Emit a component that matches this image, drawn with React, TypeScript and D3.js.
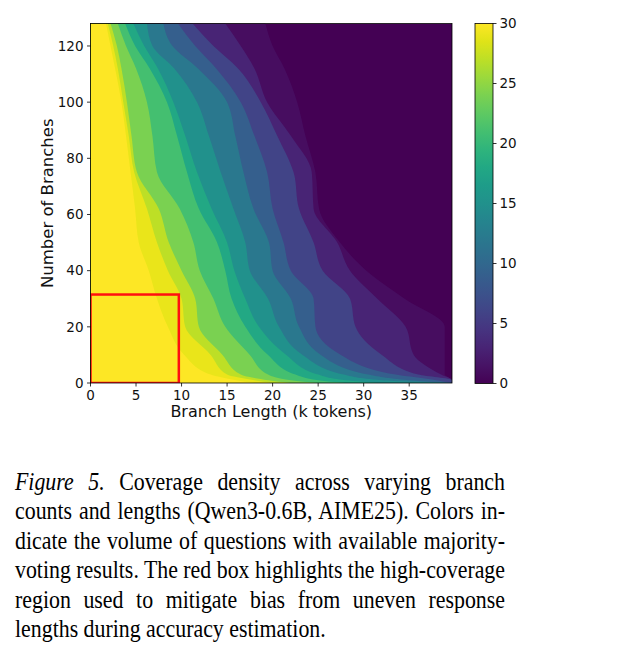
import { useEffect, useRef } from 'react';
import * as d3 from 'd3';

// branch counts at which the coverage edges are sampled
const branchRows = [0, 1, 3, 10, 20, 30, 40, 50, 62, 75, 88, 100, 112, 120, 128];

// coverage levels (questions out of 30) drawn as nested bands
const coverageLevels = [1, 3, 6, 9, 12, 15, 18, 21, 24, 27, 29, 30];

// for each branch row: branch length (k tokens) where coverage drops below each level
const lengthEdges = [
  [39.7, 39.7, 39.7, 39.7, 39.7, 39.7, 32.0, 28.0, 25.0, 22.0, 20.0, 18.0],
  [39.7, 39.7, 39.7, 38.0, 35.0, 32.0, 28.0, 25.0, 22.0, 19.5, 18.0, 16.0],
  [38.9, 38.5, 36.0, 33.5, 30.5, 27.8, 25.0, 22.5, 19.5, 16.5, 15.0, 13.2],
  [38.9, 35.5, 32.0, 27.5, 25.3, 23.3, 21.5, 19.5, 17.5, 14.5, 13.2, 10.3],
  [38.9, 34.6, 29.1, 24.7, 22.9, 20.7, 18.5, 17.0, 14.8, 11.9, 10.4, 8.5],
  [34.5, 31.5, 28.5, 24.5, 22.0, 19.5, 17.0, 15.5, 13.5, 11.5, 10.0, 7.3],
  [30.3, 28.5, 25.5, 22.0, 20.0, 17.5, 15.8, 14.8, 12.0, 10.0, 8.5, 6.4],
  [27.4, 27.1, 24.5, 21.2, 19.6, 17.0, 15.0, 13.9, 11.3, 8.6, 7.3, 5.3],
  [25.1, 24.5, 22.9, 20.0, 17.9, 15.7, 13.3, 11.9, 9.8, 7.5, 6.2, 4.9],
  [24.7, 24.3, 22.3, 19.4, 16.8, 14.3, 11.7, 10.6, 7.3, 5.1, 4.8, 4.4],
  [23.6, 22.0, 20.5, 18.0, 15.9, 13.0, 10.4, 9.5, 6.8, 4.5, 4.2, 3.9],
  [22.7, 19.4, 18.7, 16.5, 15.0, 11.7, 9.1, 8.4, 6.2, 4.0, 3.6, 3.4],
  [21.3, 18.0, 16.2, 13.8, 11.8, 9.2, 7.4, 6.5, 5.0, 3.4, 3.0, 2.7],
  [20.0, 16.5, 13.5, 11.5, 9.0, 6.8, 5.9, 4.9, 3.9, 2.9, 2.5, 2.2],
  [19.2, 14.8, 11.2, 9.6, 8.0, 6.2, 4.7, 3.8, 3.0, 2.2, 1.9, 1.7],
];

// high-coverage region: branch length up to ~9.7k tokens, up to ~31.5 branches
const boxLength = 9.7;
const boxBranches = 31.5;

const xTicks = [0, 5, 10, 15, 20, 25, 30, 35];
const yTicks = [0, 20, 40, 60, 80, 100, 120];
const colorTicks = [0, 5, 10, 15, 20, 25, 30];

const captionLines = [
  'counts and lengths (Qwen3-0.6B, AIME25). Colors in-',
  'dicate the volume of questions with available majority-',
  'voting results. The red box highlights the high-coverage',
  'region used to mitigate bias from uneven response',
  'lengths during accuracy estimation.',
];

const FONT = 'DejaVu Sans, sans-serif';
const SERIF = 'Liberation Serif, Times New Roman, serif';
const captionScale = 0.875;
const captionWidth = 490 / captionScale;

export default function App() {
  const captionRef = useRef<SVGGElement>(null);

  const x = d3.scaleLinear().domain([0, 39.7]).range([90.5, 452]);
  const y = d3.scaleLinear().domain([0, 128]).range([383, 23.5]);
  const color = d3.scaleSequential(d3.interpolateViridis).domain([0, 30]);
  const cb = d3.scaleLinear().domain([0, 30]).range([383.5, 23.5]);

  const area = d3
    .area<{ b: number; l: number }>()
    .y((d) => y(d.b))
    .x0(x(0))
    .x1((d) => x(d.l))
    .curve(d3.curveMonotoneY);

  const bands = coverageLevels.map((level, i) => ({
    level,
    path: area(branchRows.map((b, j) => ({ b, l: lengthEdges[j][i] }))) || '',
  }));

  const cbStops = d3.range(0, 1.0001, 0.05);

  // justify caption lines like the typeset paragraph
  useEffect(() => {
    if (!captionRef.current) return;
    d3.select(captionRef.current)
      .selectAll<SVGTextElement, unknown>('text.justify')
      .each(function () {
        const el = d3.select(this);
        el.attr('word-spacing', 0);
        const natural = this.getComputedTextLength();
        const gaps = (this.textContent || '').trim().split(/\s+/).length - 1;
        if (gaps > 0) el.attr('word-spacing', (captionWidth - natural) / gaps);
      });
  }, []);

  const [x0, x1] = x.range();
  const [y0, y1] = y.range();

  return (
    <svg
      width={620}
      height={661}
      style={{ position: 'absolute', left: 0, top: 0, background: '#fff' }}
    >
      <defs>
        <clipPath id="plot-clip">
          <rect x={x0} y={y1} width={x1 - x0} height={y0 - y1} />
        </clipPath>
        <linearGradient id="cbar" x1="0" y1="1" x2="0" y2="0">
          {cbStops.map((t) => (
            <stop key={t} offset={t} stopColor={d3.interpolateViridis(t)} />
          ))}
        </linearGradient>
      </defs>

      {/* heatmap as nested coverage bands */}
      <g clipPath="url(#plot-clip)">
        <rect x={x0} y={y1} width={x1 - x0} height={y0 - y1} fill={color(0)} />
        {bands.map((d) => (
          <path key={d.level} d={d.path} fill={color(d.level)} />
        ))}
        <rect
          x={x(0)}
          y={y(boxBranches)}
          width={x(boxLength) - x(0)}
          height={y(0) - y(boxBranches)}
          fill="none"
          stroke="#ff1010"
          strokeWidth={2.5}
        />
      </g>
      <rect x={x0} y={y1} width={x1 - x0} height={y0 - y1} fill="none" stroke="#000" strokeWidth={0.8} />

      {/* axes */}
      <g fontFamily={FONT} fontSize={13.5} fill="#111">
        {xTicks.map((t) => (
          <g key={t} transform={`translate(${x(t)},${y0})`}>
            <line y2={3.5} stroke="#000" strokeWidth={0.8} />
            <text y={16.5} textAnchor="middle">{t}</text>
          </g>
        ))}
        {yTicks.map((t) => (
          <g key={t} transform={`translate(${x0},${y(t)})`}>
            <line x2={-3.5} stroke="#000" strokeWidth={0.8} />
            <text x={-7} dy="0.35em" textAnchor="end">{t}</text>
          </g>
        ))}
      </g>
      <text x={(x0 + x1) / 2} y={417} textAnchor="middle" fontFamily={FONT} fontSize={16} fill="#111">
        Branch Length (k tokens)
      </text>
      <text
        transform={`translate(52.5,${(y0 + y1) / 2}) rotate(-90)`}
        textAnchor="middle"
        fontFamily={FONT}
        fontSize={16.5}
        fill="#111"
      >
        Number of Branches
      </text>

      {/* colorbar */}
      <rect x={475} y={cb(30)} width={18} height={cb(0) - cb(30)} fill="url(#cbar)" stroke="#000" strokeWidth={0.8} />
      <g fontFamily={FONT} fontSize={13.5} fill="#111">
        {colorTicks.map((t) => (
          <g key={t} transform={`translate(493,${cb(t)})`}>
            <line x2={3.5} stroke="#000" strokeWidth={0.8} />
            <text x={6.5} dy="0.35em">{t}</text>
          </g>
        ))}
      </g>

      {/* caption */}
      <g ref={captionRef} transform={`translate(15,0) scale(${captionScale},1)`} fontFamily={SERIF} fontSize={25} fill="#000">
        <text className="justify" x={0} y={490}>
          <tspan fontStyle="italic">Figure 5.</tspan>
          <tspan> Coverage density across varying branch</tspan>
        </text>
        {captionLines.map((line, i) => (
          <text
            key={i}
            className={i < captionLines.length - 1 ? 'justify' : undefined}
            x={0}
            y={519.5 + i * 29.5}
          >
            {line}
          </text>
        ))}
      </g>
    </svg>
  );
}
